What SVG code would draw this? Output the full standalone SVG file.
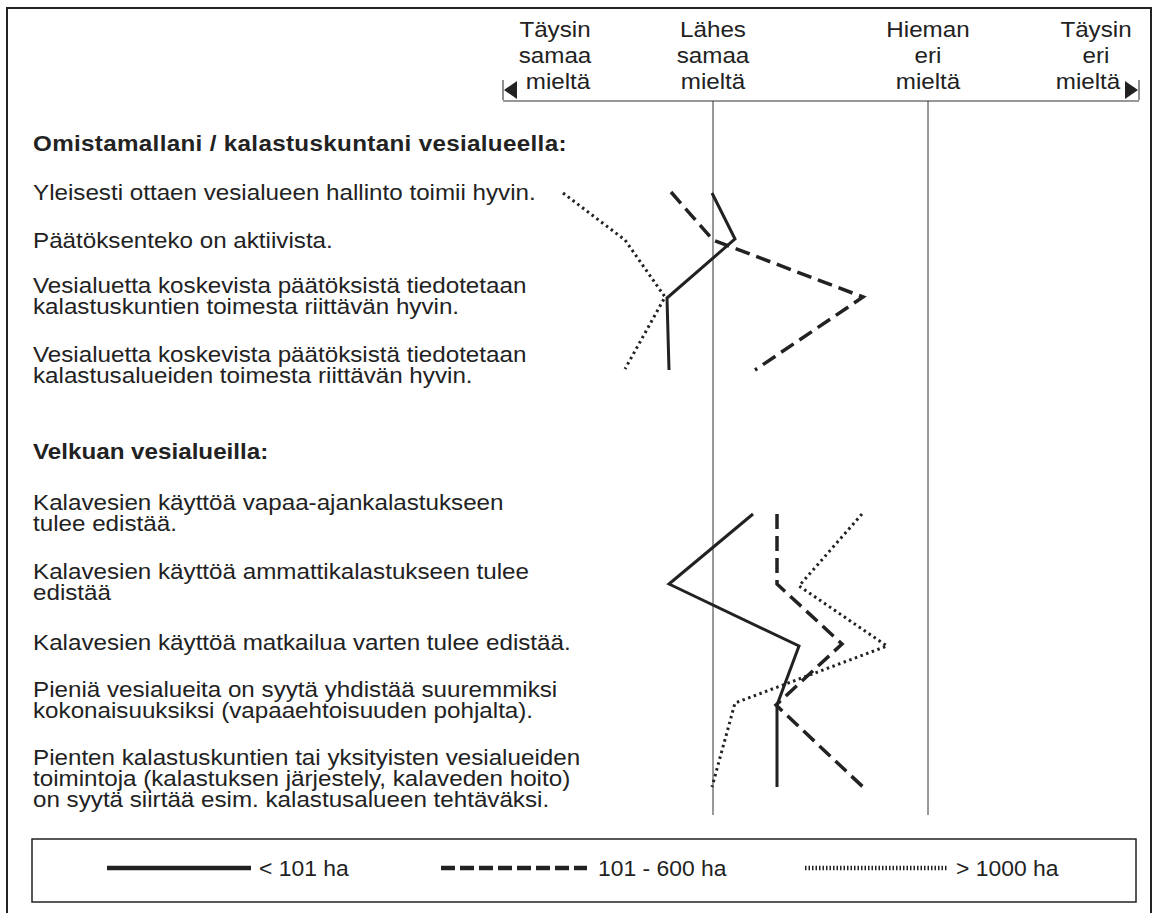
<svg xmlns="http://www.w3.org/2000/svg" width="1152" height="913" viewBox="0 0 1152 913">
<style>
text{font-family:"Liberation Sans",Arial,sans-serif;font-size:22px;fill:#222}
.b{font-weight:bold}
.h{text-anchor:middle}
.grid{stroke:#333;stroke-width:1;fill:none}
.s{stroke:#222;stroke-width:3;fill:none;stroke-linejoin:miter}
.d{stroke:#222;stroke-width:3.5;fill:none;stroke-dasharray:15 7}
.o{stroke:#222;stroke-width:3;fill:none;stroke-dasharray:2.5 3.5}
</style>
<rect x="0" y="0" width="1152" height="913" fill="#fff"/>
<rect x="7" y="8" width="1144" height="920" fill="none" stroke="#222" stroke-width="2"/>
<g id="header">
<text class="h" transform="translate(555 0) scale(1.1 1)" y="37">Täysin</text>
<text class="h" transform="translate(555 0) scale(1.1 1)" y="63">samaa</text>
<text class="h" transform="translate(558 0) scale(1.1 1)" y="89">mieltä</text>
<text class="h" transform="translate(713 0) scale(1.1 1)" y="37">Lähes</text>
<text class="h" transform="translate(713 0) scale(1.1 1)" y="63">samaa</text>
<text class="h" transform="translate(713 0) scale(1.1 1)" y="89">mieltä</text>
<text class="h" transform="translate(928 0) scale(1.1 1)" y="37">Hieman</text>
<text class="h" transform="translate(928 0) scale(1.1 1)" y="63">eri</text>
<text class="h" transform="translate(928 0) scale(1.1 1)" y="89">mieltä</text>
<text class="h" transform="translate(1096 0) scale(1.1 1)" y="37">Täysin</text>
<text class="h" transform="translate(1096 0) scale(1.1 1)" y="63">eri</text>
<text class="h" transform="translate(1088 0) scale(1.1 1)" y="89">mieltä</text>
<line x1="503" y1="101" x2="1139" y2="101" stroke="#333" stroke-width="1.2"/>
<line x1="503" y1="80" x2="503" y2="100" stroke="#222" stroke-width="1"/>
<line x1="1139" y1="80" x2="1139" y2="100" stroke="#222" stroke-width="1"/>
<polygon points="504,90 517,81 517,99" fill="#222"/>
<polygon points="1138,90 1125,81 1125,99" fill="#222"/>
</g>
<g id="grid">
<line class="grid" x1="713" y1="101" x2="713" y2="815"/>
<line class="grid" x1="928" y1="101" x2="928" y2="815"/>
</g>
<g id="labels" transform="translate(33 0) scale(1.1 1)">
<text class="b" x="0" y="151" textLength="485" lengthAdjust="spacing">Omistamallani / kalastuskuntani vesialueella:</text>
<text x="0" y="200">Yleisesti ottaen vesialueen hallinto toimii hyvin.</text>
<text x="0" y="248">Päätöksenteko on aktiivista.</text>
<text x="0" y="293">Vesialuetta koskevista päätöksistä tiedotetaan</text>
<text x="0" y="314">kalastuskuntien toimesta riittävän hyvin.</text>
<text x="0" y="362">Vesialuetta koskevista päätöksistä tiedotetaan</text>
<text x="0" y="383">kalastusalueiden toimesta riittävän hyvin.</text>
<text class="b" x="0" y="459">Velkuan vesialueilla:</text>
<text x="0" y="510">Kalavesien käyttöä vapaa-ajankalastukseen</text>
<text x="0" y="531">tulee edistää.</text>
<text x="0" y="579">Kalavesien käyttöä ammattikalastukseen tulee</text>
<text x="0" y="600">edistää</text>
<text x="0" y="650">Kalavesien käyttöä matkailua varten tulee edistää.</text>
<text x="0" y="697">Pieniä vesialueita on syytä yhdistää suuremmiksi</text>
<text x="0" y="718">kokonaisuuksiksi (vapaaehtoisuuden pohjalta).</text>
<text x="0" y="765">Pienten kalastuskuntien tai yksityisten vesialueiden</text>
<text x="0" y="786">toimintoja (kalastuksen järjestely, kalaveden hoito)</text>
<text x="0" y="807">on syytä siirtää esim. kalastusalueen tehtäväksi.</text>
</g>
<g id="series">
<polyline class="s" points="712,193 735,239 667,298 669,370"/>
<polyline class="d" points="671,192 713,240 863,297 755,370"/>
<polyline class="o" points="563,193 625,240 665,297 625,369"/>
<polyline class="s" points="753,514 669,584 799,646 777,705 777,787"/>
<polyline class="d" points="777,514 777,584 842,644 776,705 863,787"/>
<polyline class="o" points="862,514 799,586 887,646 735,703 712,787"/>
</g>
<g id="legend">
<rect x="32" y="839" width="1104" height="63" fill="none" stroke="#222" stroke-width="1.5"/>
<line x1="107" y1="868" x2="251" y2="868" stroke="#222" stroke-width="4.5"/>
<text transform="translate(259 0) scale(1.04 1)" x="0" y="876">&lt; 101 ha</text>
<line x1="441" y1="868" x2="587" y2="868" stroke="#222" stroke-width="4.5" stroke-dasharray="14 5"/>
<text transform="translate(598 0) scale(1.04 1)" x="0" y="876">101 - 600 ha</text>
<line x1="805" y1="868" x2="948" y2="868" stroke="#222" stroke-width="4.5" stroke-dasharray="1.5 2"/>
<text transform="translate(956 0) scale(1.04 1)" x="0" y="876">&gt; 1000 ha</text>
</g>
</svg>
